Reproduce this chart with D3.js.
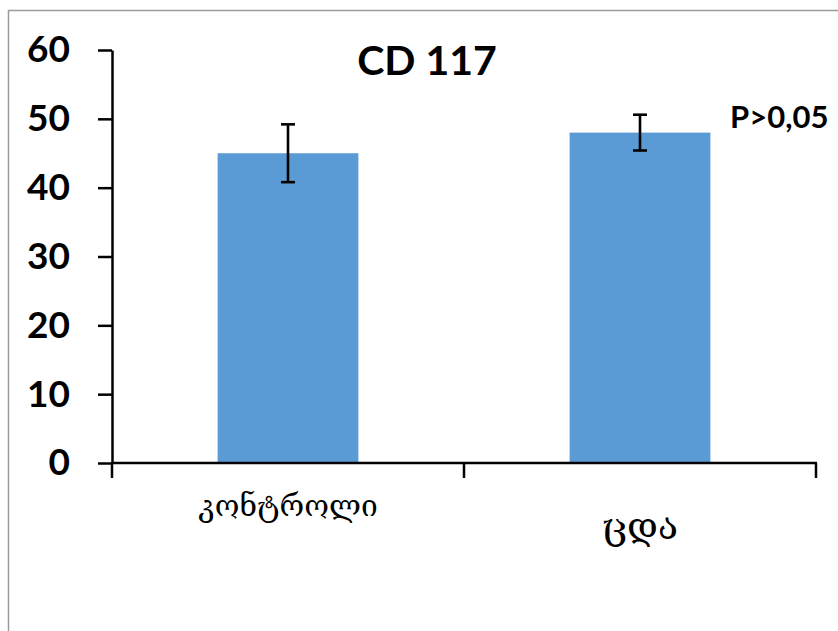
<!DOCTYPE html>
<html>
<head>
<meta charset="utf-8">
<script src="https://cdn.jsdelivr.net/npm/d3@7"></script>
<style>
  html, body { margin: 0; padding: 0; background: #fff; }
  svg { display: block; }
</style>
</head>
<body>
<svg id="chart" width="838" height="631"></svg>
<script>
// CD 117 expression: control vs. experiment group, mean ± error
const categories = ["კონტროლი", "ცდა"];
const values = [45, 48];
const errors = [4.2, 2.6];
const yTicks = [0, 10, 20, 30, 40, 50, 60];
const title = "CD 117";
const pNote = "P>0,05";

const svg = d3.select("#chart");
const W = 838, H = 631;
const latin = "Lato, 'Open Sans', 'Liberation Sans', sans-serif";
const georgian = "'DejaVu Serif', 'DejaVu Sans', serif";

// frame around the chart area
svg.append("path")
  .attr("d", `M8.5,${H + 5}V10.5H${W + 5}`)
  .attr("fill", "none")
  .attr("stroke", "#9a9a9a")
  .attr("stroke-width", 1.5);

const plotLeft = 112, plotRight = 816, plotTop = 50, plotBottom = 463;

const y = d3.scaleLinear().domain([0, 60]).range([plotBottom, plotTop]);
const x = d3.scaleBand().domain(categories).range([plotLeft, plotRight])
  .paddingInner(0.6).paddingOuter(0.3);

// bars
svg.append("g").selectAll("rect")
  .data(categories)
  .join("rect")
  .attr("x", d => x(d))
  .attr("width", x.bandwidth())
  .attr("y", (d, i) => y(values[i]))
  .attr("height", (d, i) => y(0) - y(values[i]))
  .attr("fill", "#5b9bd5");

// error bars
const eb = svg.append("g").attr("stroke", "#000").attr("stroke-width", 2.6).attr("fill", "none");
categories.forEach((c, i) => {
  const cx = x(c) + x.bandwidth() / 2;
  const hi = y(values[i] + errors[i]), lo = y(values[i] - errors[i]);
  eb.append("line").attr("x1", cx).attr("x2", cx).attr("y1", hi).attr("y2", lo);
  eb.append("line").attr("x1", cx - 7).attr("x2", cx + 7).attr("y1", hi).attr("y2", hi);
  eb.append("line").attr("x1", cx - 7).attr("x2", cx + 7).attr("y1", lo).attr("y2", lo);
});

// y axis
const yAxis = svg.append("g")
  .attr("transform", `translate(${plotLeft},0)`)
  .call(d3.axisLeft(y).tickValues(yTicks).tickSize(14).tickSizeOuter(0).tickPadding(28));
yAxis.selectAll("path, line").attr("stroke", "#000").attr("stroke-width", 2.5);
yAxis.selectAll("text")
  .attr("font-family", latin)
  .attr("font-weight", "bold")
  .attr("font-size", 37)
  .attr("fill", "#000");

// x axis with ticks on category boundaries
const step = x.step();
const bounds = d3.range(categories.length + 1).map(i => plotLeft + i * step);
const xAxis = svg.append("g");
xAxis.append("line")
  .attr("x1", plotLeft - 1).attr("x2", plotRight + 1)
  .attr("y1", y(0)).attr("y2", y(0))
  .attr("stroke", "#000").attr("stroke-width", 2.5);
xAxis.selectAll("line.tick")
  .data(bounds)
  .join("line")
  .attr("class", "tick")
  .attr("x1", d => d).attr("x2", d => d)
  .attr("y1", y(0)).attr("y2", y(0) + 15)
  .attr("stroke", "#000").attr("stroke-width", 2.5);

// category labels (the second one sits lower and a little larger)
const labelBaseline = [516, 539];
const labelSize = [30, 37];
xAxis.selectAll("text")
  .data(categories)
  .join("text")
  .attr("x", d => x(d) + x.bandwidth() / 2)
  .attr("y", (d, i) => labelBaseline[i])
  .attr("text-anchor", "middle")
  .attr("font-family", georgian)
  .attr("font-size", (d, i) => labelSize[i])
  .attr("fill", "#000")
  .text(d => d);

// title
svg.append("text")
  .attr("x", 427).attr("y", 75)
  .attr("text-anchor", "middle")
  .attr("font-family", latin)
  .attr("font-weight", "bold")
  .attr("font-size", 41)
  .attr("fill", "#000")
  .text(title);

// significance note
svg.append("text")
  .attr("x", 730).attr("y", 128)
  .attr("font-family", latin)
  .attr("font-weight", "bold")
  .attr("font-size", 31)
  .attr("fill", "#000")
  .text(pNote);
</script>
</body>
</html>
